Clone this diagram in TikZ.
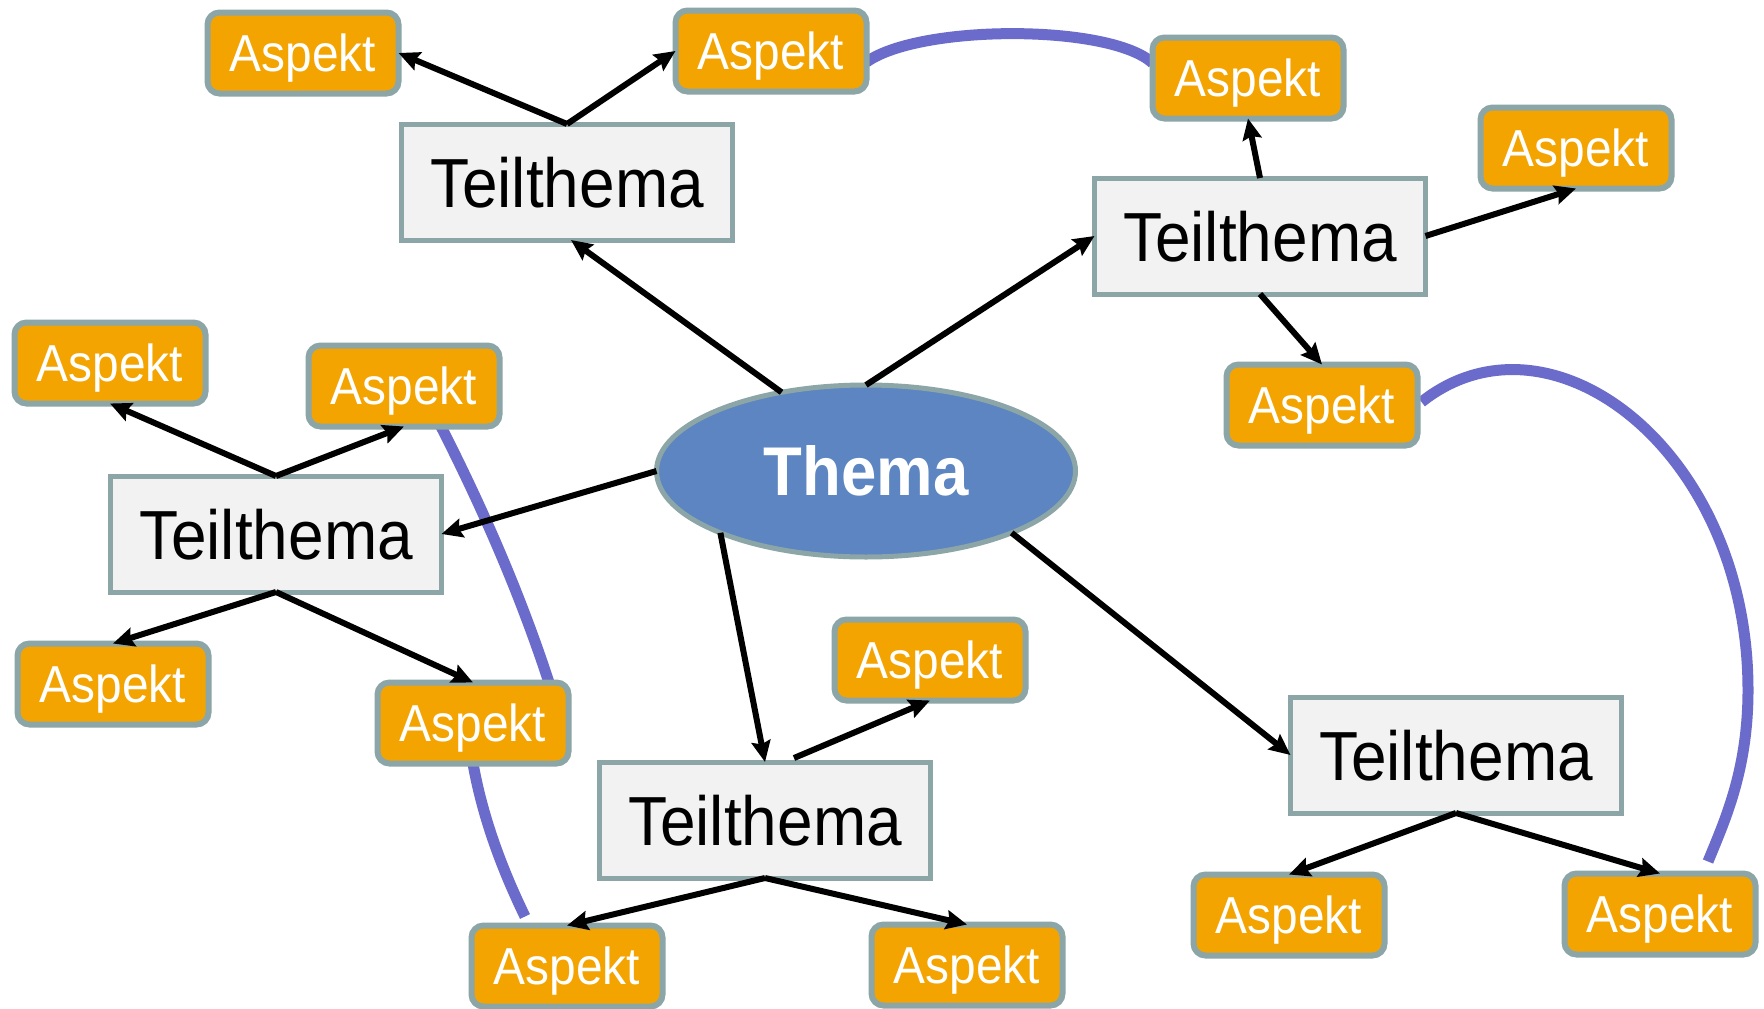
\documentclass[tikz,border=0pt]{standalone}
\usepackage{fontspec}
\setmainfont{Liberation Sans}[FakeStretch=0.92]
\usetikzlibrary{shapes.geometric,arrows.meta,calc}
\pgfdeclarelayer{bg}
\pgfsetlayers{bg,main}
\definecolor{aorange}{HTML}{F4A400}
\definecolor{bordergrey}{HTML}{8CA5A7}
\definecolor{teilfill}{HTML}{F2F2F2}
\definecolor{themafill}{HTML}{5C85C1}
\definecolor{linkpurple}{HTML}{6B6BCB}
\begin{document}
\begin{tikzpicture}[x=1pt,y=-1pt,
  aspekt/.style={draw=bordergrey, line width=6pt, fill=aorange, rounded corners=12pt,
    minimum width=191pt, minimum height=81pt, inner sep=0pt, outer sep=0pt,
    text=white, font=\fontsize{52}{52}\selectfont, text height=37pt, text depth=0pt},
  teil/.style={draw=bordergrey, line width=5pt, fill=teilfill,
    minimum width=331pt, minimum height=116pt, inner sep=0pt, outer sep=0pt,
    text=black, font=\fontsize{69.5}{69.5}\selectfont, text height=50pt, text depth=0pt},
  thema/.style={ellipse, draw=bordergrey, line width=5pt, fill=themafill,
    minimum width=419pt, minimum height=172pt, inner sep=0pt, outer sep=0pt,
    text=white, font=\bfseries\fontsize{69}{69}\selectfont, text height=49.5pt, text depth=0pt},
  arr/.style={line width=6pt, black, -{Stealth[length=21pt,width=19pt,inset=3pt]}},
  link/.style={line width=11pt, linkpurple}
]
\useasboundingbox (0,0) rectangle (1764,1009);

% central topic
\node[thema] (Th) at (866,471) {Thema};

% sub-topics
\node[teil] (T1) at (567,182) {Teilthema};
\node[teil] (T2) at (1260,236) {Teilthema};
\node[teil] (T3) at (276,534) {Teilthema};
\node[teil] (T4) at (765,820) {Teilthema};
\node[teil] (T5) at (1456,755) {Teilthema};

% aspects
\node[aspekt] (A1) at (303,53) {Aspekt};
\node[aspekt] (A2) at (771,51) {Aspekt};
\node[aspekt] (A3) at (1248,78) {Aspekt};
\node[aspekt] (A4) at (1576,148) {Aspekt};
\node[aspekt] (A5) at (1322,405) {Aspekt};
\node[aspekt] (A6) at (110,363) {Aspekt};
\node[aspekt] (A7) at (404,386) {Aspekt};
\node[aspekt] (A8) at (113,684) {Aspekt};
\node[aspekt] (A9) at (473,723) {Aspekt};
\node[aspekt] (A10) at (930,660) {Aspekt};
\node[aspekt] (A11) at (567,966) {Aspekt};
\node[aspekt] (A12) at (967,965) {Aspekt};
\node[aspekt] (A13) at (1289,915) {Aspekt};
\node[aspekt] (A14) at (1660,914) {Aspekt};

% cross links (behind boxes)
\coordinate (c2m) at (1748,690);
\begin{pgfonlayer}{bg}
\fill[white] (0,0) rectangle (1764,1009);
\draw[link] ($(A2.east)+(0,11)$) .. controls (920,24) and (1110,24) .. ($(A3.west)+(0,-15)$);
\draw[link] ($(A5.east)+(4,-3)$) .. controls (1550,300) and (1748,450) .. (c2m)
  .. controls (1748,770) and (1725,820) .. ($(A14.north)+(48,-12)$);
\draw[link] ($(A7.south)+(37,0)$) .. controls (485,513) and (521,597) .. ($(A9.north)+(76,0)$);
\draw[link] (A9.south) .. controls (482,814) and (500,865) .. ($(A11.north)+(-42,-9)$);
\end{pgfonlayer}

% arrows from the central topic
\draw[arr] (Th.137) -- ($(T1.south)+(4,0)$);
\draw[arr] (Th.north) -- (T2.west);
\draw[arr] (Th.west) -- (T3.east);
\draw[arr] (Th.203) -- (T4.north);
\draw[arr] (Th.337) -- (T5.west);

% arrows from sub-topics
\draw[arr] (T1.north) -- (A1.east);
\draw[arr] (T1.north) -- (A2.west);
\draw[arr] (T2.north) -- (A3.south);
\draw[arr] (T2.east) -- (A4.south);
\draw[arr] (T2.south) -- (A5.north);
\draw[arr] (T3.north) -- (A6.south);
\draw[arr] (T3.north) -- (A7.south);
\draw[arr] (T3.south) -- (A8.north);
\draw[arr] (T3.south) -- (A9.north);
\draw[arr] ($(T4.north)+(29,-4)$) -- (A10.south);
\draw[arr] (T4.south) -- (A11.north);
\draw[arr] (T4.south) -- (A12.north);
\draw[arr] (T5.south) -- (A13.north);
\draw[arr] (T5.south) -- (A14.north);
\end{tikzpicture}
\end{document}
